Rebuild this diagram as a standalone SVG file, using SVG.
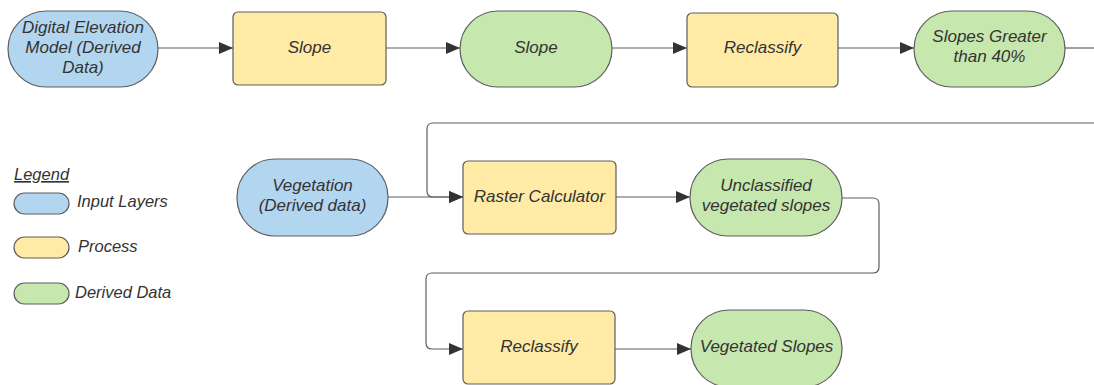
<svg xmlns="http://www.w3.org/2000/svg" width="1094" height="385" viewBox="0 0 1094 385">
  <style>
    .input { fill: #b3d6f0; stroke: #5e5e5e; stroke-width: 1.2; }
    .process { fill: #ffeaa6; stroke: #5e5e5e; stroke-width: 1.2; }
    .derived { fill: #c6e7ad; stroke: #5e5e5e; stroke-width: 1.2; }
    .label { font-family: "Liberation Sans", Arial, sans-serif; font-style: italic; font-size: 17px; fill: #333333; text-anchor: middle; }
    .legend { font-family: "Liberation Sans", Arial, sans-serif; font-style: italic; font-size: 16.5px; fill: #333333; }
    .conn { fill: none; stroke: #5e5e5e; stroke-width: 1.2; }
  </style>
  <defs>
    <marker id="arrow" viewBox="0 0 14 12" refX="14" refY="6" markerWidth="14" markerHeight="12" markerUnits="userSpaceOnUse" orient="auto">
      <path d="M0,0 L14,6 L0,12 Z" fill="#333333"/>
    </marker>
  </defs>

  <rect width="1094" height="385" fill="#ffffff"/>

  <!-- connectors -->
  <g id="connectors">
    <path class="conn" d="M158,48 H233" marker-end="url(#arrow)"/>
    <path class="conn" d="M386,48 H460" marker-end="url(#arrow)"/>
    <path class="conn" d="M612,48 H687" marker-end="url(#arrow)"/>
    <path class="conn" d="M838,48 H914" marker-end="url(#arrow)"/>
    <path class="conn" d="M1065,48 H1094"/>
    <path class="conn" d="M1094,123 H433 Q427,123 427,129 V191 Q427,197 433,197 H463" marker-end="url(#arrow)"/>
    <path class="conn" d="M388,197 H463" marker-end="url(#arrow)"/>
    <path class="conn" d="M616,197 H690" marker-end="url(#arrow)"/>
    <path class="conn" d="M842,198 H873 Q879,198 879,204 V267 Q879,273 873,273 H432 Q426,273 426,279 V343 Q426,349 432,349 H463" marker-end="url(#arrow)"/>
    <path class="conn" d="M615,349 H691" marker-end="url(#arrow)"/>
  </g>

  <!-- top row -->
  <g id="dem">
    <rect class="input" x="8" y="11" width="150" height="76" rx="38"/>
    <text class="label"><tspan x="83" y="33">Digital Elevation</tspan><tspan x="83" y="53">Model (Derived</tspan><tspan x="83" y="73">Data)</tspan></text>
  </g>
  <g id="slope-process">
    <rect class="process" x="233" y="12" width="153" height="73" rx="5"/>
    <text class="label" x="309.5" y="53">Slope</text>
  </g>
  <g id="slope-data">
    <rect class="derived" x="460" y="11" width="152" height="76" rx="38"/>
    <text class="label" x="536" y="53">Slope</text>
  </g>
  <g id="reclassify-1">
    <rect class="process" x="687" y="13" width="151" height="74" rx="5"/>
    <text class="label" x="762.5" y="53">Reclassify</text>
  </g>
  <g id="slopes-greater">
    <rect class="derived" x="914" y="11" width="151" height="76" rx="38"/>
    <text class="label"><tspan x="989.5" y="42">Slopes Greater</tspan><tspan x="989.5" y="62">than 40%</tspan></text>
  </g>

  <!-- middle row -->
  <g id="vegetation">
    <rect class="input" x="237" y="159" width="151" height="77" rx="38"/>
    <text class="label"><tspan x="312.5" y="191">Vegetation</tspan><tspan x="312.5" y="211">(Derived data)</tspan></text>
  </g>
  <g id="raster-calculator">
    <rect class="process" x="463" y="161" width="153" height="73" rx="5"/>
    <text class="label" x="539.5" y="202">Raster Calculator</text>
  </g>
  <g id="unclassified">
    <rect class="derived" x="690" y="159" width="152" height="77" rx="38"/>
    <text class="label"><tspan x="766" y="191">Unclassified</tspan><tspan x="766" y="211">vegetated slopes</tspan></text>
  </g>

  <!-- bottom row -->
  <g id="reclassify-2">
    <rect class="process" x="463" y="311" width="152" height="73" rx="5"/>
    <text class="label" x="539" y="352">Reclassify</text>
  </g>
  <g id="vegetated-slopes">
    <rect class="derived" x="691" y="310" width="151" height="77" rx="38"/>
    <text class="label" x="766.5" y="352">Vegetated Slopes</text>
  </g>

  <!-- legend -->
  <g id="legend">
    <text class="legend" x="14" y="180" text-decoration="underline">Legend</text>
    <rect class="input" x="14" y="193" width="55" height="21" rx="10.5"/>
    <text class="legend" x="77" y="207">Input Layers</text>
    <rect class="process" x="14" y="237" width="55" height="21" rx="10.5"/>
    <text class="legend" x="78" y="252">Process</text>
    <rect class="derived" x="14" y="283" width="55" height="21" rx="10.5"/>
    <text class="legend" x="75" y="298">Derived Data</text>
  </g>
</svg>
